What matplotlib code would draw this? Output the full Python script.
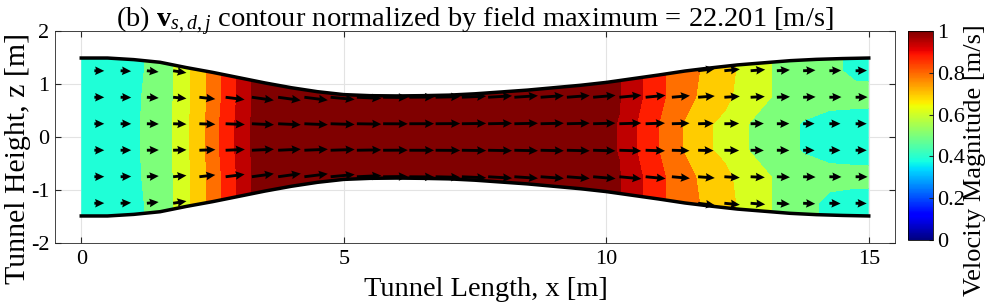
import numpy as np
import matplotlib
matplotlib.use('Agg')
import matplotlib.pyplot as plt
from matplotlib.patches import Polygon
from matplotlib.colors import Normalize
from matplotlib.cm import ScalarMappable

plt.rcParams['font.family'] = ['Liberation Serif', 'DejaVu Serif']
plt.rcParams['mathtext.fontset'] = 'custom'
plt.rcParams['mathtext.rm'] = 'Liberation Serif'
plt.rcParams['mathtext.it'] = 'Liberation Serif:italic'
plt.rcParams['mathtext.bf'] = 'Liberation Serif:bold'
plt.rcParams['axes.unicode_minus'] = False

# tunnel half-height (wall line)
wall_x = [0.0, 0.5, 1.0, 1.5, 2.0, 2.5, 3.0, 3.5, 4.0, 4.5, 5.0, 5.5, 6.0, 6.5, 7.0, 7.5,
          8.0, 8.5, 9.0, 9.5, 10.0, 10.5, 11.0, 11.5, 12.0, 12.5, 13.0, 13.5, 14.0, 14.5, 15.0]
wall_h = [1.49, 1.49, 1.46, 1.41, 1.31, 1.22, 1.12, 1.02, 0.93, 0.855, 0.80, 0.78, 0.775, 0.78, 0.79, 0.815,
          0.85, 0.885, 0.93, 0.975, 1.03, 1.10, 1.17, 1.245, 1.305, 1.36, 1.40, 1.44, 1.465, 1.48, 1.49]

# sample grid of the velocity field (arrow positions)
col_x = [0.25, 0.75, 1.25, 1.75, 2.25, 2.75, 3.25, 3.75, 4.25, 4.75, 5.25, 5.75, 6.25, 6.75, 7.25,
         7.75, 8.25, 8.75, 9.25, 9.75, 10.25, 10.75, 11.25, 11.75, 12.25, 12.75, 13.25, 13.75, 14.25, 14.75]
row_z = [1.25, 0.75, 0.25, -0.25, -0.75, -1.25]

# normalized speed |v| / max along each row
speed_p125 = [0.40, 0.425, 0.475, 0.54, 0.645, 0.77, 0.89, 0.92, 0.95, 0.975, 0.99, 1.0, 1.0, 0.995, 0.985,
              0.97, 0.955, 0.94, 0.925, 0.91, 0.893, 0.81, 0.73, 0.683, 0.625, 0.59, 0.526, 0.50, 0.48, 0.46]
speed_p075 = [0.40, 0.43, 0.48, 0.54, 0.645, 0.77, 0.89, 0.92, 0.95, 0.975, 0.99, 1.0, 1.0, 0.995, 0.985,
              0.97, 0.955, 0.94, 0.925, 0.91, 0.893, 0.81, 0.73, 0.675, 0.625, 0.575, 0.53, 0.505, 0.49, 0.485]
speed_p025 = [0.40, 0.43, 0.483, 0.542, 0.65, 0.78, 0.895, 0.92, 0.95, 0.975, 0.99, 1.0, 1.0, 0.995, 0.985,
              0.97, 0.955, 0.94, 0.925, 0.905, 0.888, 0.785, 0.715, 0.627, 0.597, 0.536, 0.505, 0.465, 0.45, 0.45]
speed_m025 = [0.40, 0.43, 0.483, 0.542, 0.65, 0.78, 0.895, 0.92, 0.95, 0.975, 0.99, 1.0, 1.0, 0.995, 0.985,
              0.97, 0.955, 0.94, 0.925, 0.905, 0.888, 0.785, 0.715, 0.627, 0.597, 0.536, 0.505, 0.465, 0.45, 0.45]
speed_m075 = [0.40, 0.43, 0.48, 0.54, 0.645, 0.77, 0.89, 0.92, 0.95, 0.975, 0.99, 1.0, 1.0, 0.995, 0.985,
              0.97, 0.955, 0.94, 0.925, 0.91, 0.893, 0.81, 0.73, 0.675, 0.625, 0.575, 0.53, 0.505, 0.49, 0.485]
speed_m125 = [0.40, 0.425, 0.475, 0.54, 0.645, 0.77, 0.89, 0.92, 0.95, 0.975, 0.99, 1.0, 1.0, 0.995, 0.985,
              0.97, 0.955, 0.94, 0.925, 0.91, 0.893, 0.81, 0.73, 0.683, 0.625, 0.59, 0.526, 0.49, 0.455, 0.45]

# contour bands and the jet tone each band is filled with
band_levels = [0.0, 0.47, 0.54, 0.61, 0.68, 0.75, 0.82, 0.89, 1.05]
band_tones = [0.39, 0.5, 0.61, 0.694, 0.79, 0.876, 0.945, 1.0]
cbar_ticks = [0, 0.2, 0.4, 0.6, 0.8, 1]
field_max = 22.201

wx = np.array(wall_x)
wh = np.array(wall_h)
cx = np.array(col_x)
rz = np.array(row_z)
S = np.array([speed_p125, speed_p075, speed_p025, speed_m025, speed_m075, speed_m125])

fig = plt.figure(figsize=(9.96, 3.03), dpi=100)
ax = fig.add_axes([55/996, 60/303, 840/996, 212/303])

# filled contour, padded out to the walls and ends, clipped to the tunnel
gx = np.concatenate([[0.0], cx, [15.0]])
gz = np.concatenate([[1.5], rz, [-1.5]])
G = np.pad(S, 1, mode='edge')
cs = ax.contourf(gx, gz[::-1], G[::-1], levels=band_levels,
                 colors=plt.cm.jet(band_tones), zorder=1)
outline = np.column_stack([np.r_[wx, wx[::-1]], np.r_[wh, -wh[::-1]]])
tunnel = Polygon(outline, closed=True, facecolor='none', edgecolor='none')
ax.add_patch(tunnel)
cs.set_clip_path(tunnel)

# velocity arrows, following the wall slope
X, Z = np.meshgrid(cx, rz)
H = np.interp(X, wx, wh)
slope = np.interp(X, wx, np.gradient(wh, wx))
U = S
V = S * Z / H * slope
inside = np.abs(Z) <= H - 0.02
ax.quiver(X[inside], Z[inside], U[inside], V[inside], angles='xy', scale_units='xy',
          scale=1/0.47, color='k', width=0.0034, headwidth=3, headlength=3.2,
          headaxislength=2.9, zorder=3)

# tunnel walls
ax.plot(wx, wh, color='k', lw=2.5, zorder=4)
ax.plot(wx, -wh, color='k', lw=2.5, zorder=4)

ax.set_xlim(-0.5, 15.5)
ax.set_ylim(-2, 2)
ax.set_xticks([0, 5, 10, 15])
ax.set_yticks([-2, -1, 0, 1, 2])
ax.grid(True, color='#e3e3e3', lw=0.8, zorder=0)
ax.set_axisbelow(True)
ax.tick_params(direction='in', length=4, top=True, right=True, labelsize=16,
               color='#262626')
ax.tick_params(axis='x', pad=5)
ax.tick_params(axis='y', pad=4)
for sp in ax.spines.values():
    sp.set_color('#262626')
    sp.set_linewidth(0.6)
ax.set_xlabel('Tunnel Length, x [m]', fontsize=20.5)
ax.xaxis.set_label_coords(0.513, -0.16)
ax.set_ylabel('Tunnel Height, z [m]', fontsize=21.5)
ax.yaxis.set_label_coords(-0.028, 0.40)
ax.set_title(r'(b) $\mathbf{v}_{s,d,j}$ contour normalized by field maximum = %.3f [m/s]' % field_max,
             fontsize=20.5, pad=3)

# colorbar
cax = fig.add_axes([908/996, 63/303, 25/996, 209/303])
sm = ScalarMappable(norm=Normalize(0, 1), cmap='jet')
cb = fig.colorbar(sm, cax=cax, ticks=cbar_ticks)
cb.ax.set_yticklabels(['%g' % t for t in cbar_ticks])
cb.ax.tick_params(direction='in', length=3, labelsize=16, color='#262626', pad=3)
cb.outline.set_linewidth(0.6)
cb.set_label('Velocity Magnitude [m/s]', fontsize=19)
cb.ax.yaxis.set_label_coords(2.22, 0.38)

fig.savefig('out.png', dpi=100)
